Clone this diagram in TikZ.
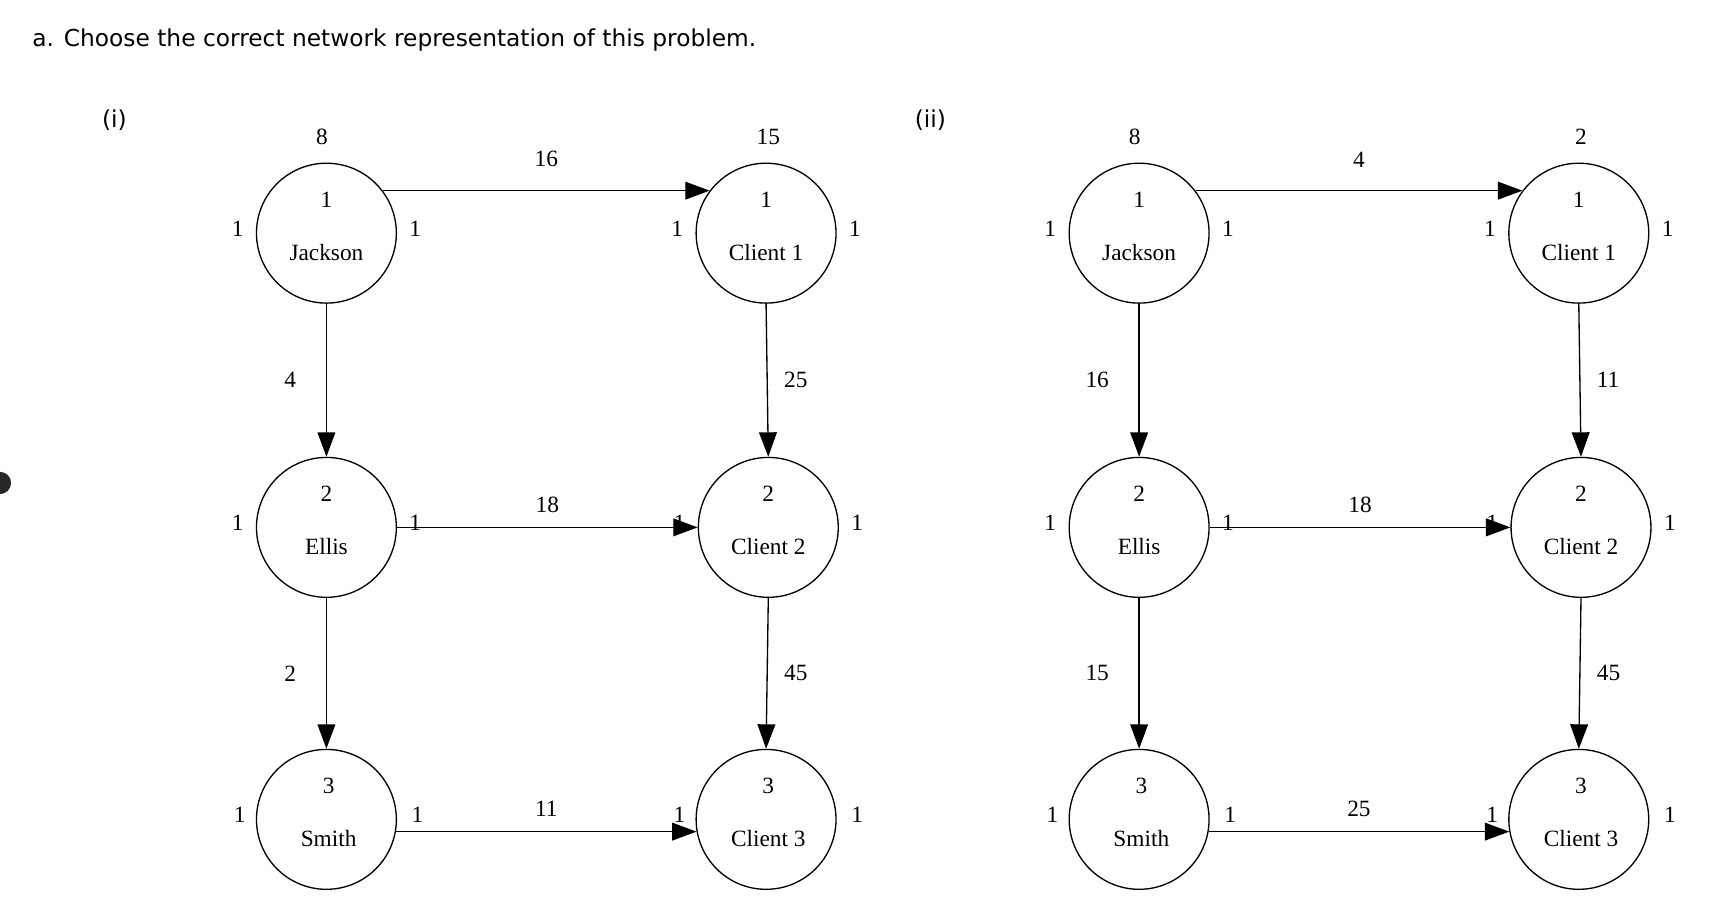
\documentclass[tikz,border=0pt]{standalone}
\usepackage{fontspec}
\setmainfont{Liberation Serif}
\newfontfamily\hdr{DejaVu Sans}
\usetikzlibrary{arrows.meta}
\begin{document}
\begin{tikzpicture}[x=0.5pt,y=-0.5pt,
  nd/.style={draw,circle,minimum size=63pt,inner sep=0pt,line width=0.6pt},
  num/.style={font=\fontsize{10.5}{12}\selectfont},
  ar/.style={line width=0.6pt,-{Triangle[length=11pt,width=8pt]}},
  lab/.style={font=\fontsize{10.5}{12}\selectfont}]
\useasboundingbox (0,0) rectangle (1560,830);
\fill[black!85] (0,435) circle (10);
\node[anchor=west,font=\hdr\fontsize{10.5}{12}\selectfont] (title) at (22,36) {a. Choose the correct network representation of this problem.};
\node[font=\hdr\fontsize{10.5}{12}\selectfont] (pi) at (103,108) {(i)};
\node[font=\hdr\fontsize{10.5}{12}\selectfont] (pii) at (838,108) {(ii)};
\foreach \p/\dx/\ta/\tb/\ha/\hb/\hc/\va/\vb/\vc/\vd in
  {a/0/8/15/16/18/11/4/2/25/45, b/732/8/2/4/18/25/16/15/11/45}{
\begin{scope}[xshift=\dx*0.5pt]
\node[nd] (\p J) at (294,210) {};
\node[nd] (\p E) at (294,475) {};
\node[nd] (\p S) at (294,738) {};
\node[nd] (\p A) at (690,210) {};
\node[nd] (\p B) at (692,475) {};
\node[nd] (\p C) at (690,738) {};
\foreach \n/\x/\y/\k/\nm in {J/294/210/1/Jackson,E/294/475/2/Ellis,S/296/738/3/Smith,A/690/210/1/Client 1,B/692/475/2/Client 2,C/692/738/3/Client 3}{
  \node[num] (\p\n k) at (\x,\y-30) {\k};
  \node[num] (\p\n n) at (\x,\y+17) {\nm};
  \node[num] (\p\n l) at (\x-80,\y-4) {1};
  \node[num] (\p\n r) at (\x+80,\y-4) {1};
}
\node[num] (\p Jt) at (290,123) {\ta};
\node[num] (\p At) at (692,123) {\tb};
\draw[ar] (\p J.37) -- (\p A.143) node[lab,midway,above=7pt] {\ha};
\draw[ar] (\p E.east) -- (\p B.west) node[lab,midway,above=3pt] {\hb};
\draw[ar] (\p S.-10) -- (\p C.190) node[lab,midway,above=3pt] {\hc};
\draw[ar] (\p J.south) -- (\p E.north) node[lab,midway,left=10pt] {\va};
\draw[ar] (\p E.south) -- (\p S.north) node[lab,midway,left=10pt] {\vb};
\draw[ar] (\p A.south) -- (\p B.north) node[lab,midway,right=4pt] {\vc};
\draw[ar] (\p B.south) -- (\p C.north) node[lab,midway,right=4pt] {\vd};
\end{scope}}
\end{tikzpicture}
\end{document}
